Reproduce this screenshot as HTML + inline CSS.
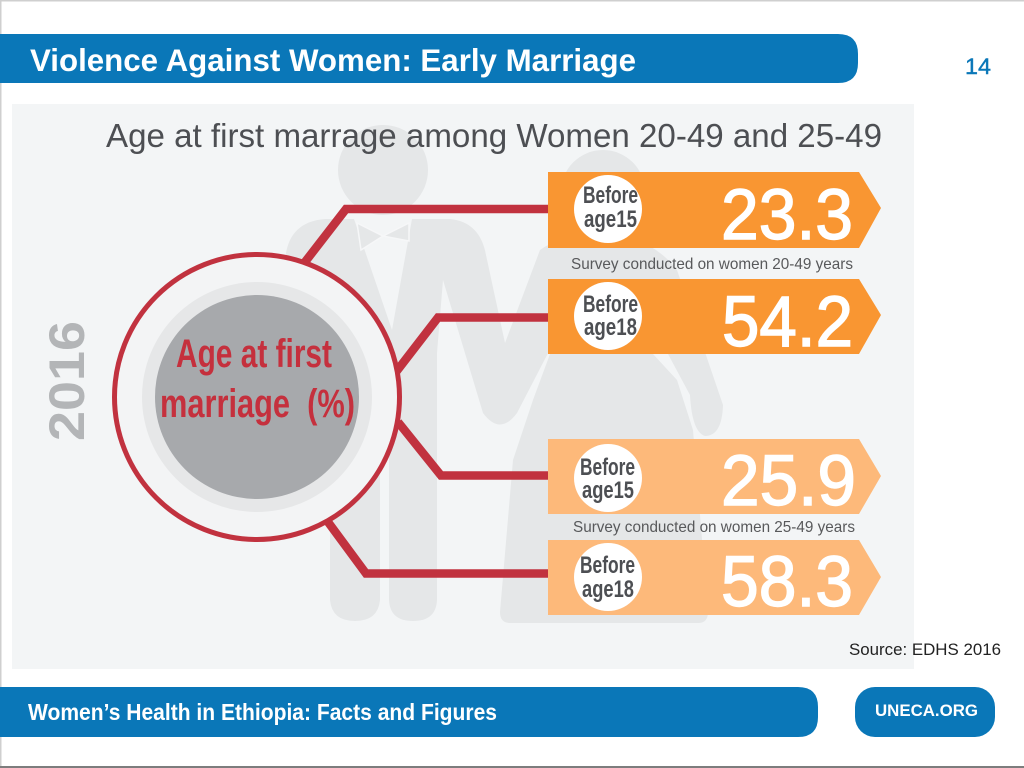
<!DOCTYPE html>
<html lang="en">
<head>
<meta charset="utf-8">
<title>Violence Against Women: Early Marriage</title>
<style>
html,body{margin:0;padding:0;background:#fff;width:1024px;height:768px;overflow:hidden}
svg{display:block}
text{font-family:"Liberation Sans",sans-serif}
</style>
</head>
<body>
<svg width="1024" height="768" viewBox="0 0 1024 768" xmlns="http://www.w3.org/2000/svg">
  <rect x="0" y="0" width="1024" height="1.5" fill="#cfcfcf"/>
  <rect x="0" y="0" width="1.5" height="768" fill="#cfcfcf"/>
  <rect x="0" y="766" width="1024" height="2" fill="#7d7d7d"/>

  <path d="M0,34 H838 Q858,34 858,54 V63 Q858,83 838,83 H0 Z" fill="#0a77b8"/>
  <text x="30" y="71" font-size="31.5" font-weight="700" fill="#fff" textLength="606" lengthAdjust="spacingAndGlyphs">Violence Against Women: Early Marriage</text>
  <text x="965" y="74" font-size="22" fill="#0a77b8" stroke="#0a77b8" stroke-width="0.4" textLength="26" lengthAdjust="spacingAndGlyphs">14</text>

  <g>
    <rect x="12" y="104" width="902" height="565" fill="#f3f5f6"/>

    <g fill="#e5e7e8">
      <circle cx="383" cy="170" r="45"/>
      <path d="M285,262 Q287,222 325,219 H354 L392,330 L412,219 H450 Q480,222 486,255 L505,343 L540,250 Q560,235 603,235 Q650,235 677,270 L723,405 Q722,436 705,436 Q692,432 690,395 L668,354 L645,325 L653,354 L677,380 L693,430 L708,612 Q708,623 698,623 H510 Q500,623 500,612 L513,460 L533,400 L550,354 L560,330 L517,413 Q500,436 483,413 L443,280 L437,353 V600 Q436,621 413,621 Q390,621 389,600 V445 H380 V600 Q378,621 355,621 Q332,621 330,600 V400 H285 Z"/>
      <circle cx="603" cy="192" r="42"/>
      <path d="M357,223 L383,236 L409,223 V241 L383,236 L361,250 Z" fill="#e5e7e8" stroke="#f6f7f8" stroke-width="1.5"/>
    </g>

    <text x="106" y="147" font-size="33" fill="#4d4f53" textLength="776" lengthAdjust="spacingAndGlyphs">Age at first marrage among Women 20-49 and 25-49</text>
    <text transform="translate(84,441) rotate(-90)" font-size="50" font-weight="700" fill="#b3b5b7" textLength="120" lengthAdjust="spacingAndGlyphs">2016</text>

    <g fill="none" stroke="#c1323f" stroke-width="8.5" stroke-linejoin="miter">
      <polyline points="305,262 346,209 548,209"/>
      <polyline points="396,372 438,317.5 548,317.5"/>
      <polyline points="398,422 441,475.5 548,475.5"/>
      <polyline points="328,522 366,573.5 548,573.5"/>
    </g>

    <circle cx="257" cy="397" r="142.5" fill="#f3f4f5" stroke="#c1323f" stroke-width="5"/>
    <circle cx="257" cy="397" r="115" fill="#e6e7e8"/>
    <circle cx="257" cy="397" r="102" fill="#a7a9ac"/>
    <text x="176" y="367" font-size="40" font-weight="700" fill="#c5303d" textLength="156" lengthAdjust="spacingAndGlyphs">Age at first</text>
    <text x="160" y="417" font-size="40" font-weight="700" fill="#c5303d" textLength="195" lengthAdjust="spacingAndGlyphs" xml:space="preserve">marriage  (%)</text>

    <g>
      <path d="M548,172 H859 L881,208 L859,248 H548 Z" fill="#f99632"/>
      <circle cx="608" cy="209" r="34" fill="#fff"/>
      <text x="583" y="203" font-size="24" font-weight="700" fill="#4d4f53" textLength="55" lengthAdjust="spacingAndGlyphs">Before</text>
      <text x="584" y="227" font-size="24" font-weight="700" fill="#4d4f53" textLength="53" lengthAdjust="spacingAndGlyphs">age15</text>
      <text x="721" y="239" font-size="71" fill="#fff" stroke="#fff" stroke-width="1.4" textLength="132" lengthAdjust="spacingAndGlyphs">23.3</text>
    </g>
    <text x="571" y="269" font-size="16" fill="#58595b" textLength="282" lengthAdjust="spacingAndGlyphs">Survey conducted on women 20-49 years</text>

    <g>
      <path d="M548,279 H859 L881,315 L859,354 H548 Z" fill="#f99632"/>
      <circle cx="608" cy="316" r="34" fill="#fff"/>
      <text x="583" y="312" font-size="24" font-weight="700" fill="#4d4f53" textLength="55" lengthAdjust="spacingAndGlyphs">Before</text>
      <text x="584" y="335" font-size="24" font-weight="700" fill="#4d4f53" textLength="53" lengthAdjust="spacingAndGlyphs">age18</text>
      <text x="722" y="346" font-size="71" fill="#fff" stroke="#fff" stroke-width="1.4" textLength="131" lengthAdjust="spacingAndGlyphs">54.2</text>
    </g>

    <g>
      <path d="M548,439 H859 L881,476 L859,514 H548 Z" fill="#fdb97a"/>
      <circle cx="608" cy="478" r="34" fill="#fff"/>
      <text x="580" y="475" font-size="24" font-weight="700" fill="#4d4f53" textLength="55" lengthAdjust="spacingAndGlyphs">Before</text>
      <text x="582" y="498" font-size="24" font-weight="700" fill="#4d4f53" textLength="52" lengthAdjust="spacingAndGlyphs">age15</text>
      <text x="721" y="505" font-size="71" fill="#fff" stroke="#fff" stroke-width="1.4" textLength="135" lengthAdjust="spacingAndGlyphs">25.9</text>
    </g>
    <text x="573" y="532" font-size="16" fill="#58595b" textLength="282" lengthAdjust="spacingAndGlyphs">Survey conducted on women 25-49 years</text>

    <g>
      <path d="M548,540 H859 L881,577 L859,615 H548 Z" fill="#fdb97a"/>
      <circle cx="608" cy="577" r="34" fill="#fff"/>
      <text x="580" y="573" font-size="24" font-weight="700" fill="#4d4f53" textLength="55" lengthAdjust="spacingAndGlyphs">Before</text>
      <text x="582" y="597" font-size="24" font-weight="700" fill="#4d4f53" textLength="52" lengthAdjust="spacingAndGlyphs">age18</text>
      <text x="721" y="606" font-size="71" fill="#fff" stroke="#fff" stroke-width="1.4" textLength="132" lengthAdjust="spacingAndGlyphs">58.3</text>
    </g>
  </g>

  <text x="849" y="655" font-size="17" fill="#222" textLength="152" lengthAdjust="spacingAndGlyphs">Source: EDHS 2016</text>

  <path d="M0,687 H798 Q818,687 818,707 V717 Q818,737 798,737 H0 Z" fill="#0a77b8"/>
  <text x="28" y="720" font-size="23" font-weight="700" fill="#fff" textLength="469" lengthAdjust="spacingAndGlyphs">Women’s Health in Ethiopia: Facts and Figures</text>
  <rect x="855" y="687" width="140" height="50" rx="20" ry="20" fill="#0a77b8"/>
  <text x="875" y="716" font-size="17" font-weight="700" fill="#fff" textLength="103" lengthAdjust="spacingAndGlyphs">UNECA.ORG</text>
</svg>
</body>
</html>
